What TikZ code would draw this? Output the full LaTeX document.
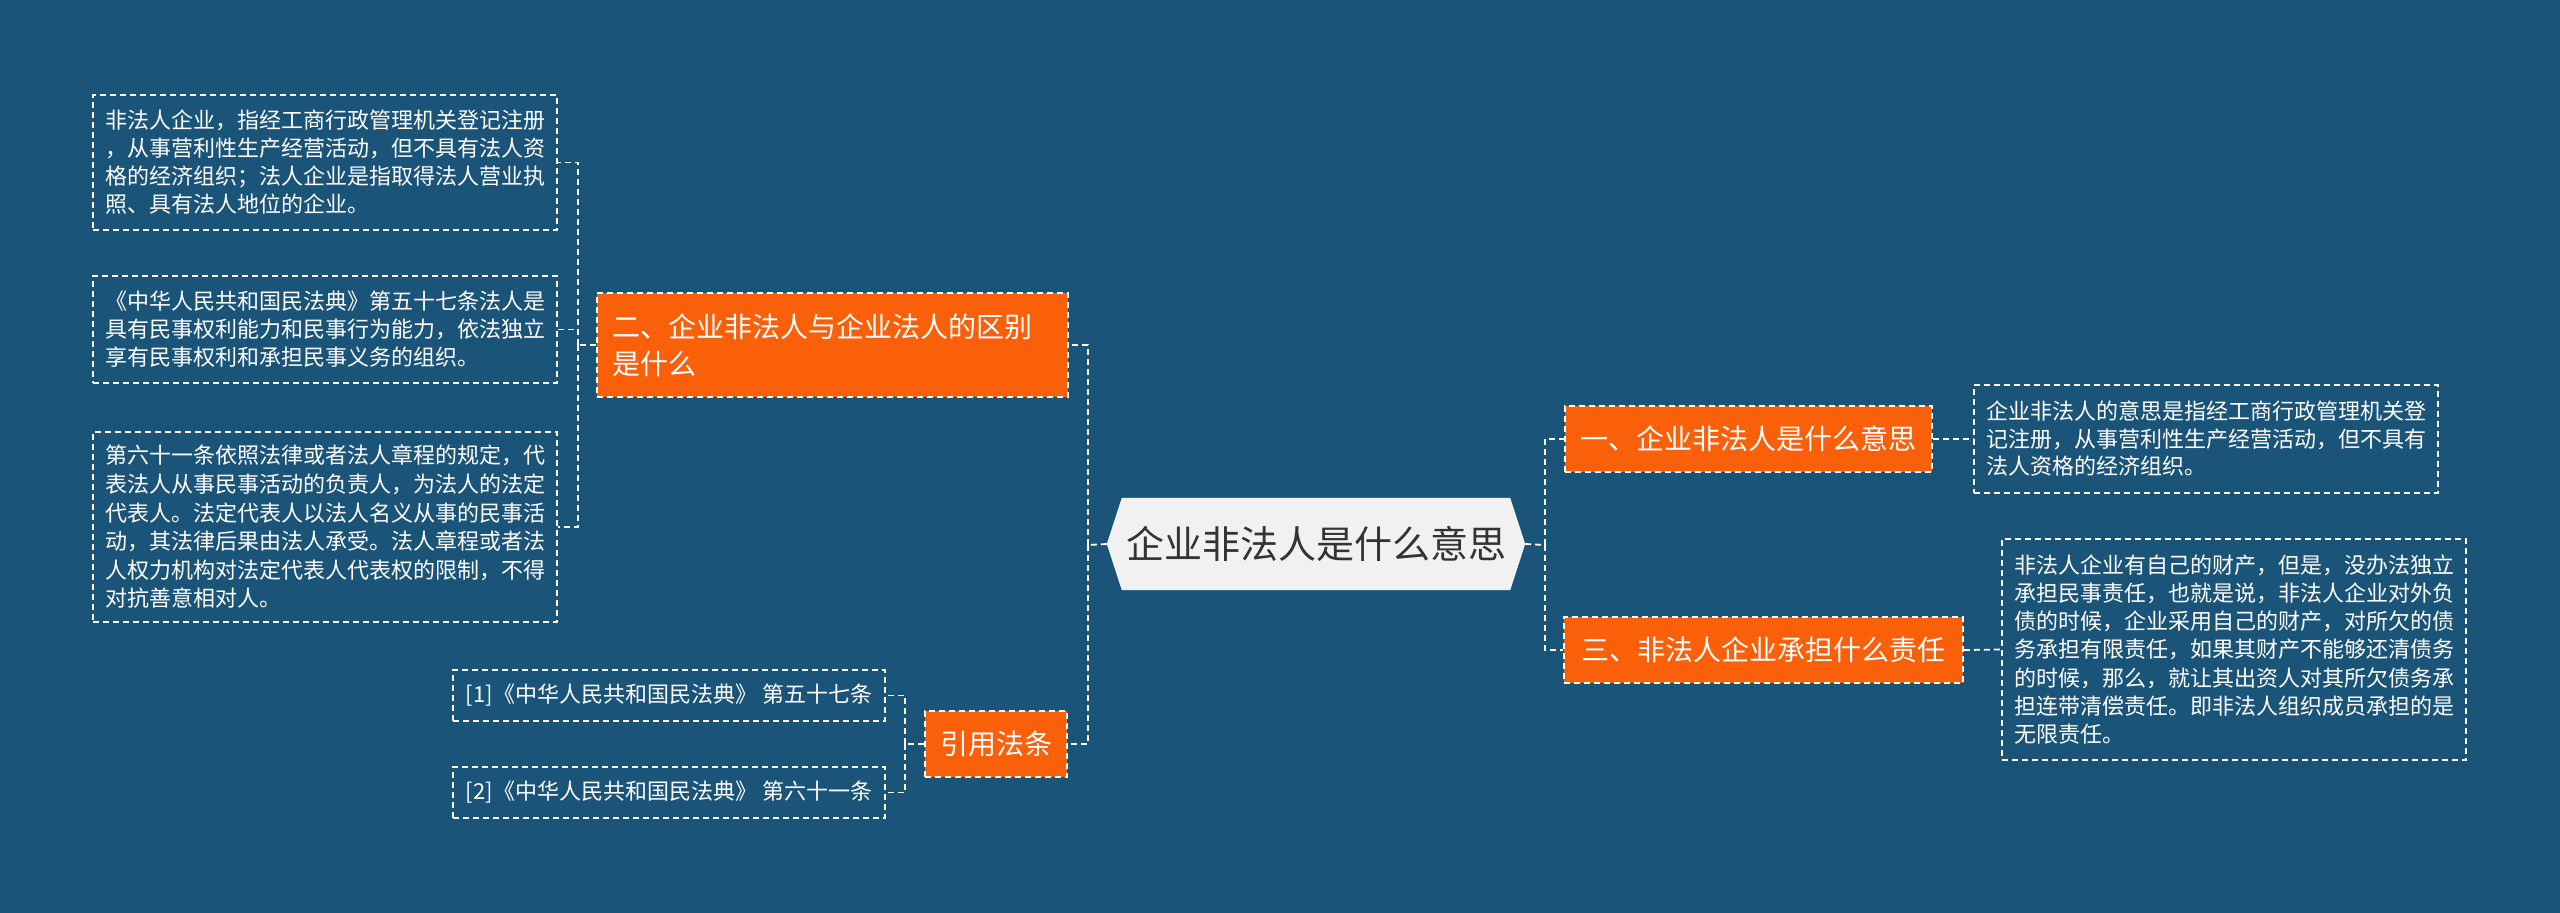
\documentclass[tikz,border=0pt]{standalone}
\usepackage{fontspec}
\usetikzlibrary{backgrounds}
\newfontfamily\cjk{Noto Sans CJK SC}
\definecolor{bg}{HTML}{1B5479}
\definecolor{org}{HTML}{FA5F0A}
\definecolor{cfill}{HTML}{F1F1F1}
\definecolor{ctext}{HTML}{333333}
\begin{document}
\begin{tikzpicture}[x=1pt,y=-1pt,
  conn/.style={draw=white, line width=1.8pt, dash pattern=on 6pt off 4pt},
  leaf/.style={draw=white, line width=1.6pt, dash pattern=on 6pt off 4pt, text=white, align=left, inner xsep=12pt, inner ysep=0pt, font=\cjk\fontsize{22}{28}\selectfont},
  topic/.style={fill=org, draw=white, line width=1.6pt, dash pattern=on 6pt off 4pt, text=white, inner xsep=15pt, inner ysep=0pt, font=\cjk\fontsize{28}{36.5}\selectfont},
  central/.style={inner sep=0pt, minimum width=418pt, minimum height=92pt, text=ctext, font=\cjk\fontsize{38}{44}\selectfont}
]
\useasboundingbox (0,0) rectangle (2560,913);

% left branch leaves
\node[leaf, text width=440pt, minimum height=135pt] (L1) at (325,162.5) {非法人企业，指经工商行政管理机关登记注册\\，从事营利性生产经营活动，但不具有法人资\\格的经济组织；法人企业是指取得法人营业执\\照、具有法人地位的企业。};
\node[leaf, text width=440pt, minimum height=107pt] (L2) at (325,329.5) {《中华人民共和国民法典》第五十七条法人是\\具有民事权利能力和民事行为能力，依法独立\\享有民事权利和承担民事义务的组织。};
\node[leaf, text width=440pt, minimum height=190pt, font=\cjk\fontsize{22}{28.6}\selectfont] (L3) at (325,527) {第六十一条依照法律或者法人章程的规定，代\\表法人从事民事活动的负责人，为法人的法定\\代表人。法定代表人以法人名义从事的民事活\\动，其法律后果由法人承受。法人章程或者法\\人权力机构对法定代表人代表权的限制，不得\\对抗善意相对人。};

\node[topic, text width=441pt, minimum height=104pt, align=left] (B2) at (832.5,345) {二、企业非法人与企业法人的区别\\是什么};

% center
\node[central] (C) at (1316,544) {企业非法人是什么意思};

% citations
\node[topic, minimum width=142pt, minimum height=66pt] (Y) at (996,744) {引用法条};
\node[leaf, minimum width=432pt, minimum height=51pt, font=\cjk\fontsize{22}{28}\selectfont] (Y1) at (669,695.5) {[1]《中华人民共和国民法典》\hspace{5pt}第五十七条};
\node[leaf, minimum width=432pt, minimum height=51pt, font=\cjk\fontsize{22}{28}\selectfont] (Y2) at (669,792.5) {[2]《中华人民共和国民法典》\hspace{5pt}第六十一条};

% right branch
\node[topic, minimum width=367pt, minimum height=66pt] (R1) at (1748.5,439) {一、企业非法人是什么意思};
\node[leaf, text width=440pt, minimum height=108pt, font=\cjk\fontsize{22}{27.5}\selectfont] (R1t) at (2206,439) {企业非法人的意思是指经工商行政管理机关登\\记注册，从事营利性生产经营活动，但不具有\\法人资格的经济组织。};
\node[topic, minimum width=399pt, minimum height=66pt] (R3) at (1763.5,650) {三、非法人企业承担什么责任};
\node[leaf, text width=440pt, minimum height=221pt, font=\cjk\fontsize{22}{28.3}\selectfont] (R3t) at (2234,649.5) {非法人企业有自己的财产，但是，没办法独立\\承担民事责任，也就是说，非法人企业对外负\\债的时候，企业采用自己的财产，对所欠的债\\务承担有限责任，如果其财产不能够还清债务\\的时候，那么，就让其出资人对其所欠债务承\\担连带清偿责任。即非法人组织成员承担的是\\无限责任。};

\begin{scope}[on background layer]
\fill[bg] (0,0) rectangle (2560,913);
\fill[cfill] (C.west) -- ([xshift=15pt]C.north west) -- ([xshift=-15pt]C.north east) -- (C.east) -- ([xshift=-15pt]C.south east) -- ([xshift=15pt]C.south west) -- cycle;
\end{scope}

% junctions
\coordinate (jL) at (1088,545);
\coordinate (jR) at (1545,545);
\coordinate (jB) at (578,345);
\coordinate (jY) at (905,744);

\draw[conn] (C.west) -- (jL);
\draw[conn] (jL) |- (B2.east);
\draw[conn] (jL) |- (Y.east);
\draw[conn] (C.east) -- (jR);
\draw[conn] (jR) |- (R1.west);
\draw[conn] (jR) |- (R3.west);
\draw[conn] (B2.west) -- (jB);
\draw[conn] (jB) |- (L1.east);
\draw[conn] (jB) |- (L2.east);
\draw[conn] (jB) |- (L3.east);
\draw[conn] (Y.west) -- (jY);
\draw[conn] (jY) |- (Y1.east);
\draw[conn] (jY) |- (Y2.east);
\draw[conn] (R1.east) -- (R1t.west);
\draw[conn] (R3.east) -- (R3t.west);
\end{tikzpicture}
\end{document}
